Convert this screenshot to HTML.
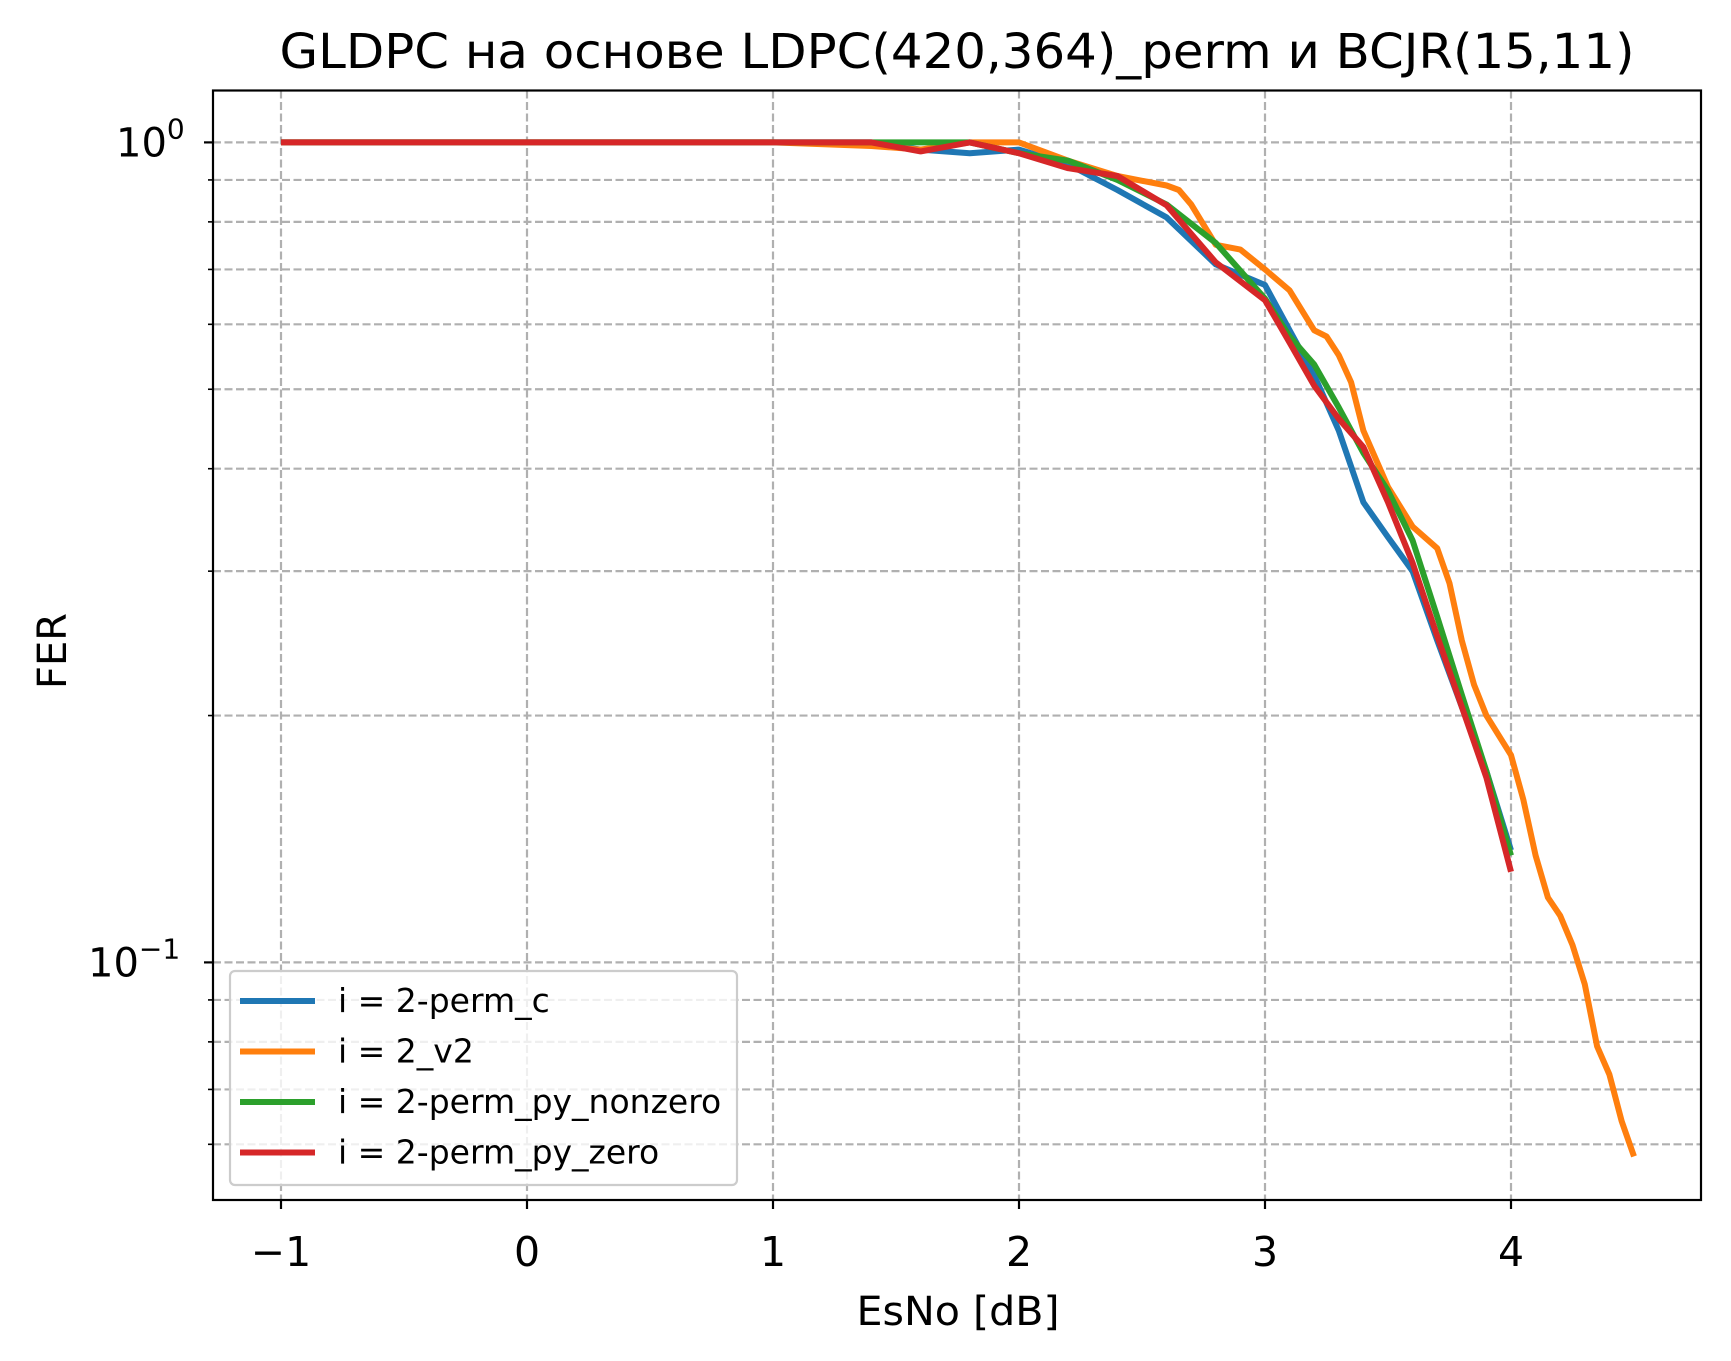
<!DOCTYPE html>
<html><head><meta charset="utf-8"><style>
body{margin:0;background:#fff}
svg{display:block;font-family:"DejaVu Sans","Liberation Sans",sans-serif}
</style></head><body>
<svg id="chart" width="1731" height="1361" viewBox="0 0 1731 1361">
<rect x="0" y="0" width="1731" height="1361" fill="#fff"/>
<g id="grid"></g>
<g id="series"></g>
<rect x="213" y="90.5" width="1488" height="1109.5" fill="none" stroke="#000" stroke-width="2.2"/>
<g id="ticks"></g>
<text x="957" y="68" font-size="48" text-anchor="middle" textLength="1355" lengthAdjust="spacingAndGlyphs">GLDPC на основе LDPC(420,364)_perm и BCJR(15,11)</text>
<text x="958" y="1325" font-size="40" text-anchor="middle" textLength="203" lengthAdjust="spacingAndGlyphs">EsNo [dB]</text>
<text x="66" y="651" font-size="40" text-anchor="middle" transform="rotate(-90 66 651)">FER</text>
<g>
<rect x="230" y="971" width="507" height="214" rx="5" fill="#fff" fill-opacity="0.8" stroke="#ccc" stroke-width="2.2"/>
<g id="legend-items"></g>
</g>
</svg>
<script>
const xTicks=[-1,0,1,2,3,4];
const xTickLabels=["\u22121","0","1","2","3","4"];
const seriesNames=["i = 2-perm_c","i = 2_v2","i = 2-perm_py_nonzero","i = 2-perm_py_zero"];
const seriesColors=["#1f77b4","#ff7f0e","#2ca02c","#d62728"];
const blueX=[-1,0,1,1.4,1.6,1.8,2.0,2.2,2.4,2.6,2.8,3.0,3.1,3.2,3.3,3.4,3.5,3.6,3.7,3.8,3.9,4.0];
const blueY=[1,1,1,1,0.98,0.97,0.98,0.94,0.875,0.81,0.71,0.67,0.59,0.52,0.445,0.364,0.33,0.30,0.247,0.205,0.171,0.137];
const orangeX=[-1,0,1,1.4,1.6,1.8,2.0,2.2,2.4,2.6,2.65,2.7,2.8,2.9,3.0,3.1,3.2,3.25,3.3,3.35,3.4,3.5,3.6,3.7,3.75,3.8,3.85,3.9,4.0,4.05,4.1,4.15,4.2,4.25,4.3,4.35,4.4,4.45,4.5];
const orangeY=[1,1,1,0.99,0.98,1.0,1.0,0.95,0.91,0.886,0.875,0.84,0.75,0.74,0.70,0.66,0.59,0.58,0.55,0.51,0.445,0.38,0.34,0.32,0.29,0.247,0.218,0.20,0.179,0.158,0.135,0.12,0.114,0.105,0.094,0.079,0.073,0.064,0.058];
const greenX=[-1,0,1,1.4,1.6,1.8,2.0,2.2,2.4,2.6,2.8,3.0,3.1,3.2,3.3,3.4,3.5,3.6,3.7,3.8,3.9,4.0];
const greenY=[1,1,1,1,1,1,0.97,0.95,0.90,0.84,0.754,0.645,0.58,0.536,0.475,0.418,0.376,0.327,0.264,0.212,0.171,0.135];
const redX=[-1,0,1,1.4,1.6,1.8,2.0,2.2,2.4,2.6,2.8,3.0,3.1,3.2,3.3,3.4,3.5,3.6,3.7,3.8,3.9,4.0];
const redY=[1,1,1,1,0.975,1.0,0.97,0.93,0.91,0.838,0.714,0.642,0.57,0.505,0.46,0.425,0.364,0.307,0.25,0.205,0.168,0.129];

const NS="http://www.w3.org/2000/svg";
const L=213,R=1701,T=90.5,B=1200;
function xs(v){return 281+(v+1)*246;}
function ys(v){return 142.4-Math.log10(v)*820;}
function mk(tag,attrs,parent){const e=document.createElementNS(NS,tag);for(const k in attrs)e.setAttribute(k,attrs[k]);parent.appendChild(e);return e;}
const grid=document.getElementById('grid'),ticks=document.getElementById('ticks'),series=document.getElementById('series');
xTicks.forEach((t,i)=>{
  const x=xs(t);
  const g=mk('line',{x1:x,x2:x,y1:T,y2:B,stroke:'#b0b0b0','stroke-width':2.2,'stroke-dasharray':'8,3.5'},grid);
  
  
  const tk=mk('line',{x1:x,x2:x,y1:B,y2:B+9,stroke:'#000','stroke-width':2.2},ticks);
  
  
  const tl=mk('text',{x:x,y:B+66,'font-size':41,'text-anchor':'middle'},ticks);
  tl.textContent=xTickLabels[i];
  
  
});
const yVals=[1,0.9,0.8,0.7,0.6,0.5,0.4,0.3,0.2,0.1,0.09,0.08,0.07,0.06];
yVals.forEach(v=>{
  const y=ys(v);
  const g=mk('line',{x1:L,x2:R,y1:y,y2:y,stroke:'#b0b0b0','stroke-width':2.2,'stroke-dasharray':'8,3.5'},grid);
  
  
  const major=(v===1||v===0.1);
  const tk=mk('line',{x1:L-(major?9:5),x2:L,y1:y,y2:y,stroke:'#000','stroke-width':major?2.2:1.6},ticks);
  
  
});
[[1,"0"],[0.1,"\u22121"]].forEach(([v,e])=>{
  const t=mk('text',{x:L-46,y:ys(v)+14,'font-size':40,'text-anchor':'end'},ticks);
  t.innerHTML='10<tspan dy="-18" font-size="28">'+e+'</tspan>';
  
  
  t.setAttribute('text-anchor','start');
  t.setAttribute('x', v===1 ? 116 : 88);
});
const all=[[blueX,blueY],[orangeX,orangeY],[greenX,greenY],[redX,redY]];
const names=['series-perm-c','series-v2','series-py-nonzero','series-py-zero'];
all.forEach(([X,Y],i)=>{
  const pts=X.map((x,j)=>xs(x).toFixed(1)+','+ys(Y[j]).toFixed(1)).join(' ');
  const p=mk('polyline',{points:pts,fill:'none',stroke:seriesColors[i],'stroke-width':6,'stroke-linejoin':'round'},series);
  
  
});
const li=document.getElementById('legend-items');
seriesNames.forEach((n,i)=>{
  const y=1001+i*50.5;
  const l=mk('line',{x1:240,x2:315,y1:y,y2:y,stroke:seriesColors[i],'stroke-width':6},li);
  
  
  const t=mk('text',{x:338,y:y+11,'font-size':33},li);
  t.textContent=n;
  
  
});
</script>
</body></html>
